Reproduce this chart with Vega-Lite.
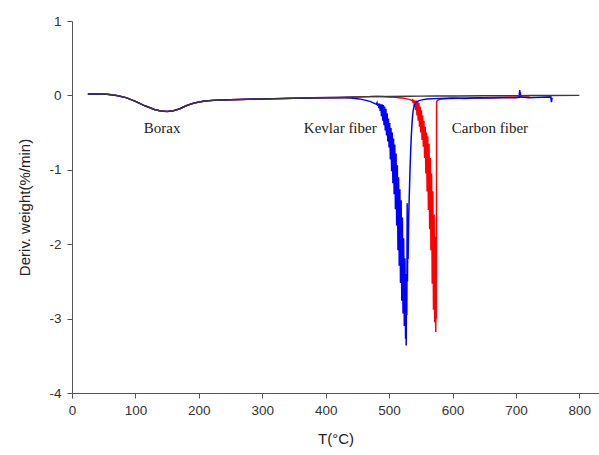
{
  "$schema": "https://vega.github.io/schema/vega-lite/v6.json",
  "width": 527,
  "height": 372,
  "autosize": "none",
  "padding": {"left": 72, "top": 21, "right": 0, "bottom": 62},
  "background": "white",
  "config": {
    "view": {"stroke": null},
    "axis": {
      "grid": false,
      "domainColor": "#555",
      "tickColor": "#555",
      "tickSize": 5,
      "labelColor": "#333",
      "labelFont": "Liberation Sans",
      "labelFontSize": 13.5,
      "titleFont": "Liberation Sans",
      "titleFontSize": 15,
      "titleFontWeight": "normal",
      "titleColor": "#222"
    }
  },
  "datasets": {
    "borax": [
      {"T": 25, "v": 0.02}, {"T": 40, "v": 0.02}, {"T": 55, "v": 0.015}, {"T": 70, "v": 0.0},
      {"T": 85, "v": -0.03}, {"T": 100, "v": -0.08}, {"T": 115, "v": -0.14}, {"T": 130, "v": -0.19},
      {"T": 140, "v": -0.21}, {"T": 150, "v": -0.215}, {"T": 160, "v": -0.205}, {"T": 170, "v": -0.18},
      {"T": 180, "v": -0.14}, {"T": 190, "v": -0.11}, {"T": 200, "v": -0.09}, {"T": 210, "v": -0.075},
      {"T": 225, "v": -0.065}, {"T": 250, "v": -0.058}, {"T": 300, "v": -0.048}, {"T": 350, "v": -0.038},
      {"T": 400, "v": -0.028}, {"T": 450, "v": -0.02}, {"T": 500, "v": -0.015}, {"T": 550, "v": -0.01},
      {"T": 600, "v": -0.008}, {"T": 650, "v": -0.005}, {"T": 700, "v": -0.003}, {"T": 750, "v": -0.001},
      {"T": 800, "v": 0.0}
    ],
    "kevlar": [
      {"T": 25, "v": 0.02}, {"T": 40, "v": 0.02}, {"T": 55, "v": 0.015}, {"T": 70, "v": 0.0},
      {"T": 85, "v": -0.03}, {"T": 100, "v": -0.08}, {"T": 115, "v": -0.14}, {"T": 130, "v": -0.19},
      {"T": 140, "v": -0.21}, {"T": 150, "v": -0.215}, {"T": 160, "v": -0.205}, {"T": 170, "v": -0.18},
      {"T": 180, "v": -0.14}, {"T": 190, "v": -0.11}, {"T": 200, "v": -0.09}, {"T": 210, "v": -0.075},
      {"T": 225, "v": -0.065}, {"T": 250, "v": -0.058}, {"T": 300, "v": -0.048}, {"T": 350, "v": -0.038},
      {"T": 400, "v": -0.03}, {"T": 420, "v": -0.03}, {"T": 430, "v": -0.032}, {"T": 440, "v": -0.036},
      {"T": 450, "v": -0.045}, {"T": 455, "v": -0.05}, {"T": 460, "v": -0.06}, {"T": 465, "v": -0.07},
      {"T": 470, "v": -0.08}, {"T": 475, "v": -0.1},
      {"T": 480, "v": -0.12}, {"T": 481, "v": -0.1}, {"T": 482, "v": -0.14}, {"T": 483, "v": -0.11},
      {"T": 484, "v": -0.17}, {"T": 485, "v": -0.11}, {"T": 486, "v": -0.21}, {"T": 487, "v": -0.12},
      {"T": 488, "v": -0.28}, {"T": 489, "v": -0.12}, {"T": 490, "v": -0.34}, {"T": 491, "v": -0.13},
      {"T": 492, "v": -0.4}, {"T": 493, "v": -0.15}, {"T": 494, "v": -0.47}, {"T": 495, "v": -0.18},
      {"T": 496, "v": -0.54}, {"T": 497, "v": -0.24}, {"T": 498, "v": -0.62}, {"T": 499, "v": -0.31},
      {"T": 500, "v": -0.7}, {"T": 501, "v": -0.37}, {"T": 502, "v": -0.86}, {"T": 503, "v": -0.44},
      {"T": 504, "v": -1.02}, {"T": 505, "v": -0.5}, {"T": 506, "v": -1.18}, {"T": 507, "v": -0.58},
      {"T": 508, "v": -1.33}, {"T": 509, "v": -0.66}, {"T": 510, "v": -1.53}, {"T": 511, "v": -0.78},
      {"T": 512, "v": -1.75}, {"T": 513, "v": -0.94}, {"T": 514, "v": -2.08}, {"T": 515, "v": -1.1},
      {"T": 516, "v": -2.29}, {"T": 517, "v": -1.26}, {"T": 518, "v": -2.52}, {"T": 519, "v": -1.41},
      {"T": 520, "v": -2.76}, {"T": 521, "v": -1.64}, {"T": 522, "v": -2.93}, {"T": 523, "v": -1.92},
      {"T": 524, "v": -3.1}, {"T": 525, "v": -2.19}, {"T": 526, "v": -3.27}, {"T": 526.5, "v": -2.4},
      {"T": 527, "v": -3.36}, {"T": 527.5, "v": -2.5}, {"T": 528, "v": -2.95}, {"T": 528.5, "v": -1.45},
      {"T": 529, "v": -2.5}, {"T": 529.5, "v": -1.7}, {"T": 530, "v": -2.2}, {"T": 531, "v": -1.6},
      {"T": 532, "v": -1.3}, {"T": 533, "v": -1.0}, {"T": 534, "v": -0.75}, {"T": 535, "v": -0.55},
      {"T": 536, "v": -0.4}, {"T": 537, "v": -0.28}, {"T": 538, "v": -0.2}, {"T": 540, "v": -0.13},
      {"T": 543, "v": -0.09}, {"T": 547, "v": -0.07}, {"T": 552, "v": -0.06}, {"T": 560, "v": -0.05},
      {"T": 580, "v": -0.04}, {"T": 600, "v": -0.035}, {"T": 620, "v": -0.04}, {"T": 640, "v": -0.03},
      {"T": 660, "v": -0.035}, {"T": 680, "v": -0.03}, {"T": 700, "v": -0.03}, {"T": 705, "v": -0.025},
      {"T": 706, "v": 0.07}, {"T": 707, "v": -0.02}, {"T": 720, "v": -0.03}, {"T": 740, "v": -0.025},
      {"T": 755, "v": -0.02}, {"T": 756, "v": -0.09}, {"T": 757, "v": -0.03}
    ],
    "carbon": [
      {"T": 25, "v": 0.02}, {"T": 40, "v": 0.02}, {"T": 55, "v": 0.015}, {"T": 70, "v": 0.0},
      {"T": 85, "v": -0.03}, {"T": 100, "v": -0.08}, {"T": 115, "v": -0.14}, {"T": 130, "v": -0.19},
      {"T": 140, "v": -0.21}, {"T": 150, "v": -0.215}, {"T": 160, "v": -0.205}, {"T": 170, "v": -0.18},
      {"T": 180, "v": -0.14}, {"T": 190, "v": -0.11}, {"T": 200, "v": -0.09}, {"T": 210, "v": -0.075},
      {"T": 225, "v": -0.065}, {"T": 250, "v": -0.058}, {"T": 300, "v": -0.048}, {"T": 350, "v": -0.038},
      {"T": 400, "v": -0.03}, {"T": 420, "v": -0.03}, {"T": 450, "v": -0.02}, {"T": 470, "v": -0.015},
      {"T": 480, "v": -0.01}, {"T": 490, "v": -0.015}, {"T": 500, "v": -0.02}, {"T": 510, "v": -0.025},
      {"T": 515, "v": -0.03}, {"T": 520, "v": -0.035}, {"T": 525, "v": -0.04}, {"T": 530, "v": -0.05},
      {"T": 534, "v": -0.06},
      {"T": 536, "v": -0.07}, {"T": 537, "v": -0.06}, {"T": 538, "v": -0.1}, {"T": 539, "v": -0.06},
      {"T": 540, "v": -0.15}, {"T": 541, "v": -0.07}, {"T": 542, "v": -0.2}, {"T": 543, "v": -0.07},
      {"T": 544, "v": -0.27}, {"T": 545, "v": -0.08}, {"T": 546, "v": -0.34}, {"T": 547, "v": -0.1},
      {"T": 548, "v": -0.42}, {"T": 549, "v": -0.15}, {"T": 550, "v": -0.5}, {"T": 551, "v": -0.2},
      {"T": 552, "v": -0.6}, {"T": 553, "v": -0.27}, {"T": 554, "v": -0.69}, {"T": 555, "v": -0.34},
      {"T": 556, "v": -0.84}, {"T": 557, "v": -0.42}, {"T": 558, "v": -1.05}, {"T": 559, "v": -0.5},
      {"T": 560, "v": -1.29}, {"T": 561, "v": -0.55}, {"T": 562, "v": -1.54}, {"T": 563, "v": -0.65},
      {"T": 564, "v": -1.8}, {"T": 565, "v": -0.84}, {"T": 566, "v": -2.08}, {"T": 567, "v": -1.05},
      {"T": 568, "v": -2.53}, {"T": 569, "v": -1.29}, {"T": 570, "v": -2.88}, {"T": 571, "v": -1.6},
      {"T": 572, "v": -3.05}, {"T": 572.5, "v": -1.9}, {"T": 573.6, "v": -3.18}, {"T": 574, "v": -2.5},
      {"T": 574.5, "v": -3.0}, {"T": 575, "v": -0.09}, {"T": 576, "v": -0.07},
      {"T": 578, "v": -0.06}, {"T": 582, "v": -0.05}, {"T": 590, "v": -0.045}, {"T": 600, "v": -0.04},
      {"T": 620, "v": -0.035}, {"T": 650, "v": -0.03}, {"T": 680, "v": -0.025}, {"T": 700, "v": -0.02},
      {"T": 706, "v": -0.02}, {"T": 707, "v": 0.04}, {"T": 708, "v": -0.02}, {"T": 722, "v": -0.02}
    ],
    "labels": [
      {"T": 142, "v": -0.44, "text": "Borax"},
      {"T": 423, "v": -0.44, "text": "Kevlar fiber"},
      {"T": 659, "v": -0.44, "text": "Carbon fiber"}
    ]
  },
  "encoding": {
    "x": {
      "field": "T", "type": "quantitative",
      "scale": {"domain": [0, 831], "nice": false, "zero": false},
      "axis": {"values": [0, 100, 200, 300, 400, 500, 600, 700, 800], "title": "T(°C)", "labelPadding": 5, "titlePadding": 15, "labelFlush": false}
    },
    "y": {
      "field": "v", "type": "quantitative",
      "scale": {"domain": [-4, 1], "nice": false},
      "axis": {"values": [-4, -3, -2, -1, 0, 1], "labelExpr": "'' + datum.value", "title": "Deriv. weight(%/min)", "labelPadding": 6, "titlePadding": 16}
    }
  },
  "layer": [
    {"data": {"name": "carbon"}, "mark": {"type": "line", "color": "#ff0000", "strokeWidth": 1.5, "interpolate": "linear"}},
    {"data": {"name": "kevlar"}, "mark": {"type": "line", "color": "#0000ff", "strokeWidth": 1.5, "interpolate": "linear"}},
    {"data": {"name": "borax"}, "mark": {"type": "line", "color": "#3a3a3a", "strokeWidth": 1.4, "interpolate": "monotone"}},
    {"data": {"name": "labels"}, "mark": {"type": "text", "font": "Liberation Serif", "fontSize": 15, "color": "#222", "align": "center", "baseline": "middle"},
     "encoding": {"text": {"field": "text"}}}
  ]
}
